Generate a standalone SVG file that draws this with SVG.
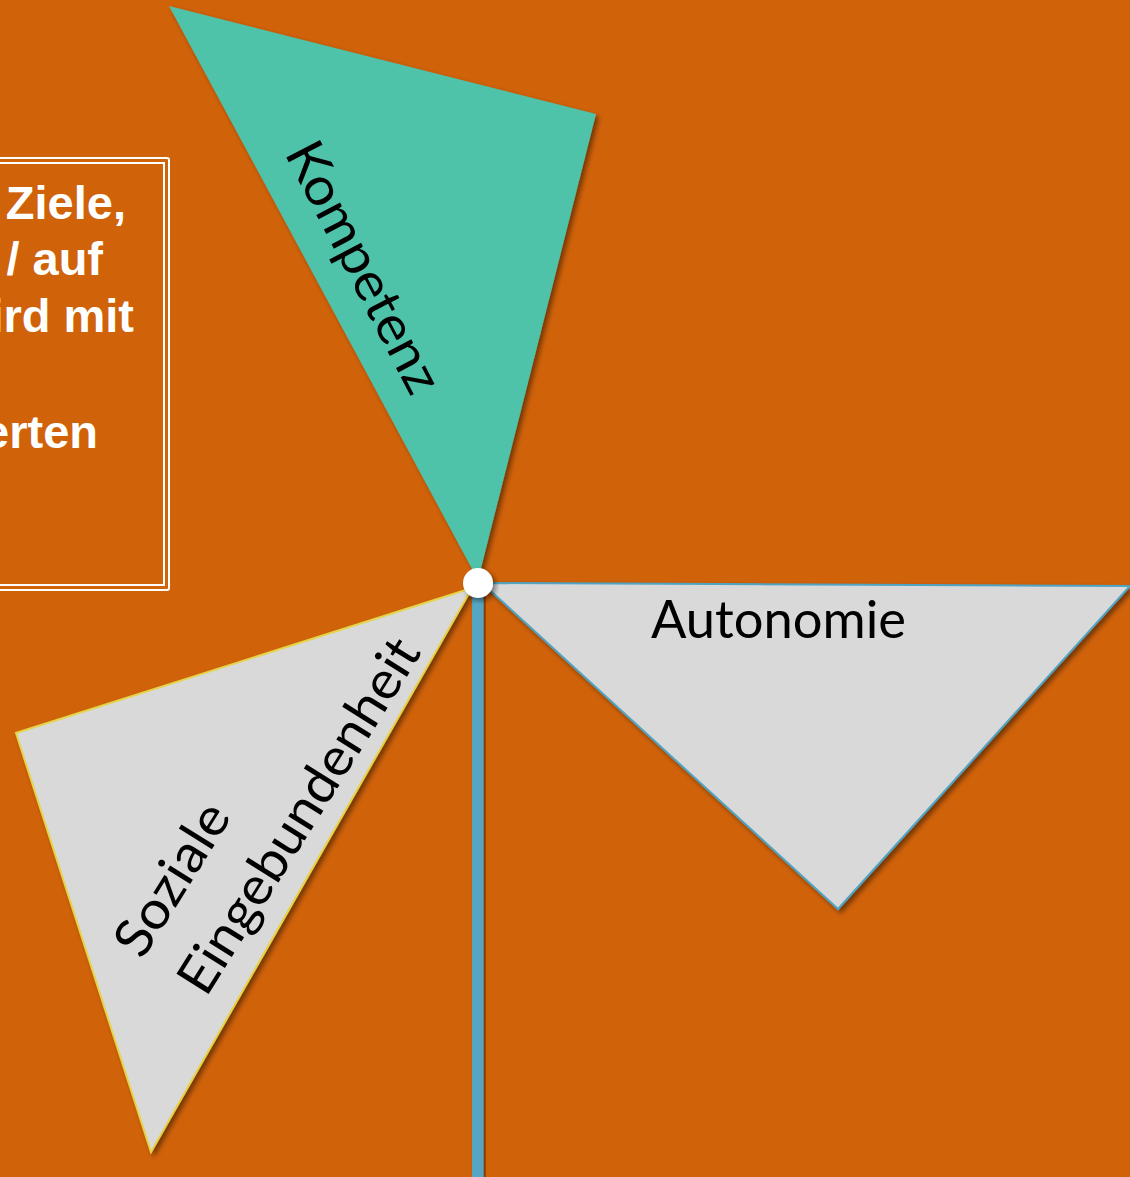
<svg xmlns="http://www.w3.org/2000/svg" width="1130" height="1177" viewBox="0 0 1130 1177">
  <style>
    .lbl { font-family: "Century Gothic", "Lato", "Liberation Sans", sans-serif; font-size: 53px; fill: #000000; }
    .box { font-family: "Century Gothic", "Liberation Sans", sans-serif; font-weight: bold; font-size: 47px; fill: #FFFFFF; text-anchor: end; }
  </style>
  <defs>
    <filter id="sh" x="-10%" y="-10%" width="130%" height="130%">
      <feDropShadow dx="3" dy="3" stdDeviation="2.5" flood-color="#000000" flood-opacity="0.45"/>
    </filter>
  </defs>
  <rect width="1130" height="1177" fill="#D0620A"/>

  <g id="textbox">
    <rect x="-20" y="158" width="189" height="432" rx="2" fill="none" stroke="#FFFFFF" stroke-width="2"/>
    <rect x="-20" y="163" width="184" height="422" fill="none" stroke="#FFFFFF" stroke-width="2"/>
    <text class="box" x="126" y="219">Ziele,</text>
    <text class="box" x="103" y="275">/ auf</text>
    <text class="box" x="134" y="332">ird mit</text>
    <text class="box" x="98" y="448">erten</text>
  </g>

  <g id="connectors">
    <rect x="472" y="588" width="11.5" height="600" fill="#54A5C5" filter="url(#sh)"/>
  </g>

  <g id="kompetenz">
    <polygon points="169,6 596,114 478,580" fill="#50C2AA" filter="url(#sh)"/>
    <text class="lbl" transform="translate(284,153) rotate(62.5)" x="0" y="0" textLength="276" lengthAdjust="spacingAndGlyphs">Kompetenz</text>
  </g>

  <g id="autonomie">
    <polygon points="482,583 1130,586 838,909" fill="#D9D9D9" stroke="#4FA4C4" stroke-width="2" stroke-linejoin="miter" filter="url(#sh)"/>
    <text class="lbl" x="651" y="638" textLength="255" lengthAdjust="spacingAndGlyphs">Autonomie</text>
  </g>

  <g id="soziale">
    <polygon points="472,588 16,733 151,1152" fill="#D9D9D9" stroke="#E5D44A" stroke-width="2" filter="url(#sh)"/>
    <g transform="translate(205,1000) rotate(-58)">
      <text class="lbl" x="0" y="-74" textLength="170" lengthAdjust="spacingAndGlyphs">Soziale</text>
      <text class="lbl" x="2" y="0" textLength="408" lengthAdjust="spacingAndGlyphs">Eingebundenheit</text>
    </g>
  </g>

  <g id="hub">
    <circle cx="478" cy="583" r="15" fill="#FFFFFF" filter="url(#sh)"/>
  </g>
</svg>
